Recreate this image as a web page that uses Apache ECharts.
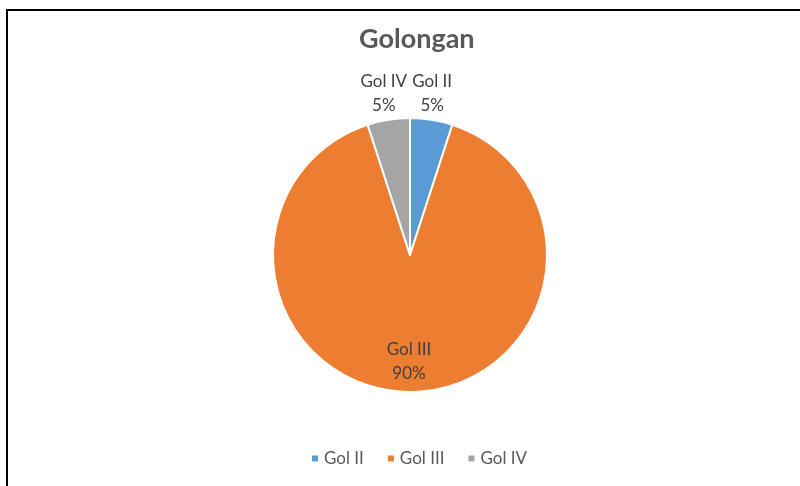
<!DOCTYPE html>
<html><head><meta charset="utf-8">
<script src="https://cdn.jsdelivr.net/npm/echarts@6/dist/echarts.min.js"></script>
<style>html,body{margin:0;padding:0;background:#fff}#c{width:800px;height:486px}</style>
</head><body><div id="c"></div>
<script>
var categories = ['Gol II', 'Gol III', 'Gol IV'];
var values = [5, 90, 5];
var colors = ['#5B9BD5', '#ED7D31', '#A5A5A5'];
var labelShift = [[11, -91], [-1, 35], [-15, -91]];

var chart = echarts.init(document.getElementById('c'), null, {renderer: 'canvas'});
var FONT = 'Lato, Open Sans, sans-serif';
chart.setOption({
  backgroundColor: '#fff',
  animation: false,
  title: {
    text: 'Golongan', left: 354, top: 21,
    textStyle: {fontFamily: FONT, fontSize: 27, fontWeight: 'bold', color: '#595959'}
  },
  legend: {
    bottom: 14, left: 305, itemWidth: 8, itemHeight: 8, itemGap: 22, icon: 'rect',
    textStyle: {fontFamily: FONT, fontSize: 17, color: '#595959'},
    data: categories
  },
  graphic: [{
    type: 'rect', shape: {x: 7, y: 10, width: 1000, height: 1000},
    style: {fill: 'none', stroke: '#000', lineWidth: 2}, silent: true
  }],
  series: [{
    type: 'pie',
    center: [410, 255],
    radius: 137,
    startAngle: 90,
    clockwise: true,
    avoidLabelOverlap: false,
    itemStyle: {borderColor: '#fff', borderWidth: 2},
    label: {
      show: true, position: 'inside',
      formatter: '{b}\n{d}%',
      fontFamily: FONT, fontSize: 17, color: '#404040', lineHeight: 24, align: 'center'
    },
    labelLine: {show: false},
    labelLayout: function (p) {
      var s = labelShift[p.dataIndex];
      return {dx: s[0], dy: s[1]};
    },
    data: categories.map(function (c, i) {
      return {name: c, value: values[i], itemStyle: {color: colors[i]}};
    })
  }]
});
</script></body></html>
